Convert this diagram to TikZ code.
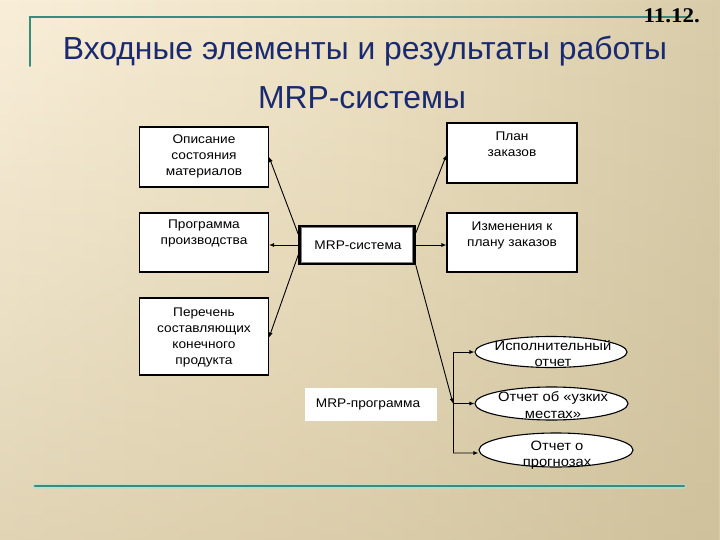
\documentclass[tikz,border=0pt]{standalone}
\usepackage{fontspec}
\setmainfont{Liberation Sans}
\newfontfamily\boxfont{Liberation Sans}[FakeStretch=1.09]
\newfontfamily\numfont{Liberation Serif}[FakeStretch=1.1]
\usetikzlibrary{arrows.meta,shapes.geometric,fadings,calc}
\definecolor{bgL}{RGB}{249,239,217}
\definecolor{bgM}{RGB}{238,226,197}
\definecolor{bgR}{RGB}{216,204,170}
\definecolor{bgD}{RGB}{196,180,138}
\definecolor{teal1}{RGB}{55,140,126}
\definecolor{halo}{RGB}{170,225,215}
\definecolor{navy}{RGB}{26,42,112}
\tikzset{
  box/.style={draw=black, line width=1.1bp, fill=white, minimum width=129bp, inner sep=0pt},
  txt/.style={font=\boxfont\fontsize{12.6}{16}\selectfont, align=center, inner sep=0pt},
  etxt/.style={font=\boxfont\fontsize{13.6}{16.5}\selectfont, align=center, inner sep=0pt},
  oval/.style={draw=black, line width=1.1bp, fill=white, ellipse, inner sep=0pt},
  conn/.style={line width=0.9bp, -{Latex[length=5bp,width=4bp]}},
  plain/.style={line width=0.9bp},
  tealline/.style={draw=teal1, line cap=round},
}
\begin{document}
\begin{tikzpicture}[x=1bp,y=-1bp]
\useasboundingbox (0,0) rectangle (720,540);
% background
\shade[left color=bgL, right color=bgR, middle color=bgM] (0,0) rectangle (720,540);
\fill[bgD, path fading=north, fill opacity=0.45] (0,0) rectangle (720,540);
% decorative lines
\draw[tealline, line width=2bp] (30,66) -- (30,17) -- (690,17);
\draw[draw=halo, line width=5bp, opacity=0.6, line cap=round] (35,486) -- (684,486);
\draw[tealline, line width=2.6bp] (35,486) -- (684,486);
% number and title
\node[anchor=base east, inner sep=0pt, font=\numfont\bfseries\fontsize{21}{24}\selectfont] (num) at (700,23) {11.12.};
\node[anchor=base, inner sep=0pt, text=navy, font=\fontsize{32}{38}\selectfont] (t1) at (365,60) {Входные элементы и результаты работы};
\node[anchor=base, inner sep=0pt, text=navy, font=\fontsize{32}{38}\selectfont] (t2) at (362,109) {MRP-системы};
% left boxes
\node[box, minimum height=60bp] (b1) at (204,157) {};
\node[txt] (b1t) at (204,156) {Описание\\состояния\\материалов};
\node[box, minimum height=59bp] (b2) at (204,242.5) {};
\node[txt] (b2t) at (204,233.5) {Программа\\производства};
\node[box, minimum height=77bp] (b3) at (204,336.5) {};
\node[txt] (b3t) at (204,337.5) {Перечень\\составляющих\\конечного\\продукта};
% right boxes
\node[box, minimum height=60bp, minimum width=130bp] (r1) at (512,153) {};
\node[txt] (r1t) at (512,144.5) {План\\заказов};
\node[box, minimum height=59bp, minimum width=130bp] (r2) at (512,242.5) {};
\node[txt] (r2t) at (512,235.5) {Изменения к\\плану заказов};
% central box
\node[draw=black, line width=3.6bp, fill=white, minimum width=114bp, minimum height=37bp, inner sep=0pt] (c) at (357,245) {};
\draw[gray, line width=0.7bp] ($(c.north west)+(3,3)$) rectangle ($(c.south east)+(-3,-3)$);
\node[txt] (ct) at (358,245) {MRP-система};
% MRP-programma
\node[fill=white, minimum width=132bp, minimum height=33bp, inner sep=0pt] (p) at (371,404.5) {};
\node[txt] (pt) at (368,404) {MRP-программа};
% ellipses
\node[oval, minimum width=152bp, minimum height=31bp] (e1) at (551,352) {};
\node[etxt] (e1t) at (553,353.5) {Исполнительный\\отчет};
\node[oval, minimum width=153bp, minimum height=33bp] (e2) at (551.5,403.5) {};
\node[etxt] (e2t) at (553,405) {Отчет об «узких\\местах»};
\node[oval, minimum width=154bp, minimum height=34bp] (e3) at (556,450) {};
\node[etxt] (e3t) at (557,455) {Отчет о\\прогнозах};
% connectors
\draw[conn] ([yshift=11bp]c.west) -- (b1.east);
\draw[conn] (c.west) -- (c.west -| b2.east);
\draw[conn] ([yshift=-10bp]c.west) -- ([yshift=-1bp]b3.east);
\draw[conn] ([yshift=12bp]c.east) -- ([yshift=-2bp]r1.west);
\draw[conn] (c.east) -- (c.east -| r2.west);
\coordinate (J) at (453,403.5);
\draw[conn] (c.south east) -- (J);
\draw[plain] (e1.west -| J) -- ($(e3.west -| J)+(0,3)$);
\draw[conn] (e1.west -| J) -- (e1.west);
\draw[conn] (J) -- (e2.west);
\draw[conn] ($(e3.west -| J)+(0,3)$) -- ([yshift=-3bp]e3.west);
\end{tikzpicture}
\end{document}
